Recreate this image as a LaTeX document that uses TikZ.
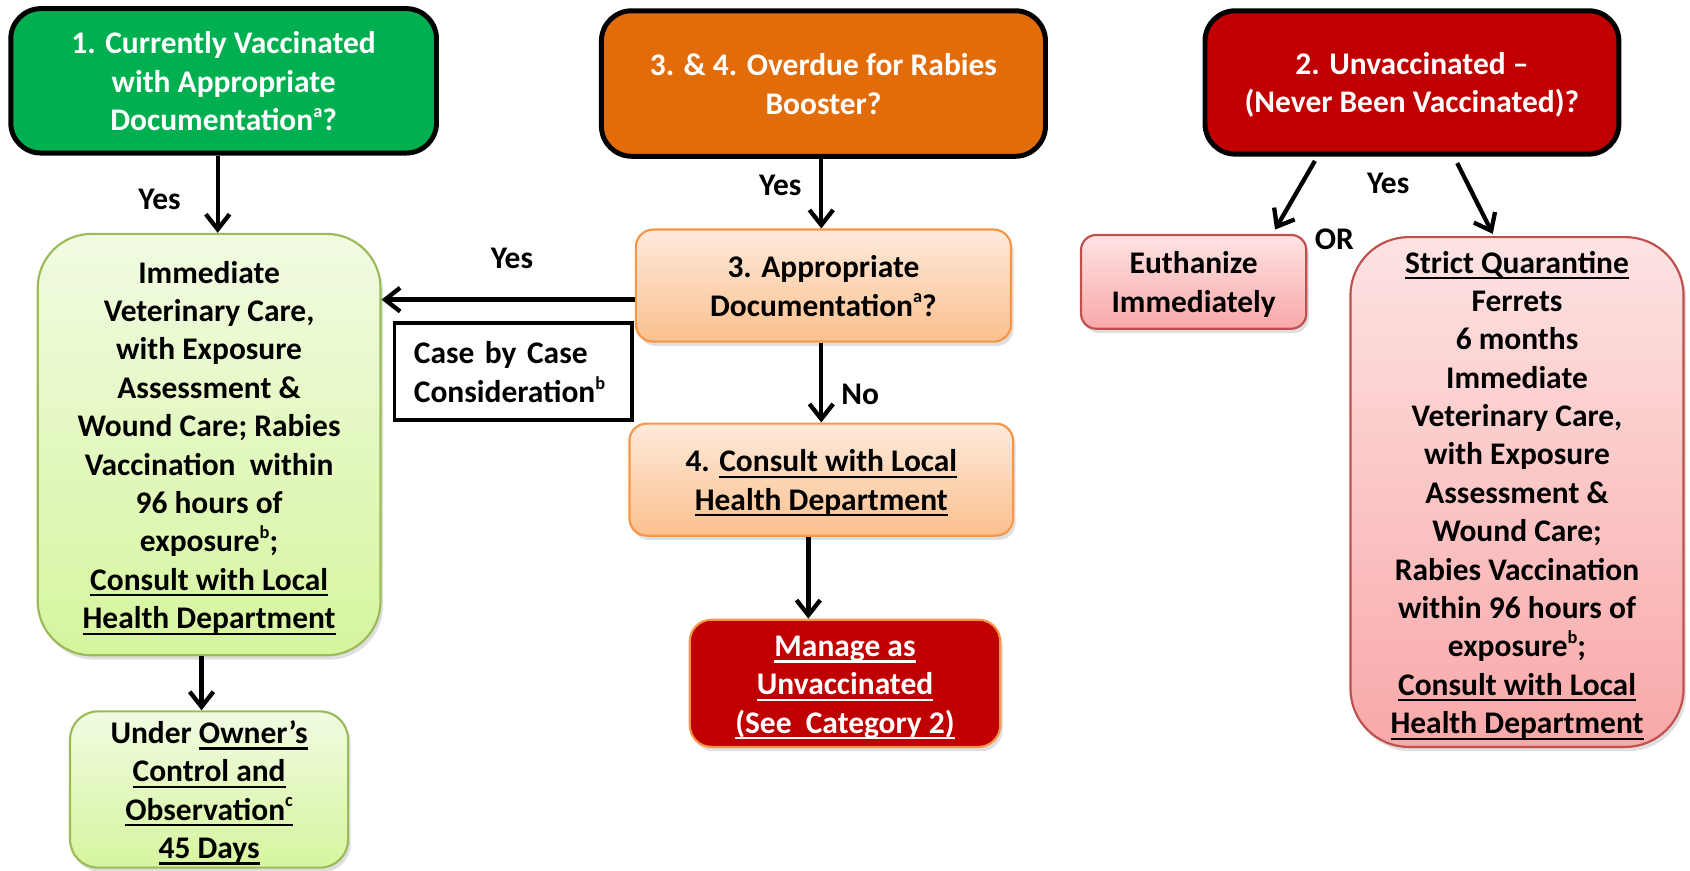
\documentclass[tikz,border=0pt]{standalone}
\usepackage{fontspec}
\setmainfont{Carlito}
\newcommand{\uln}[1]{\setbox0\hbox{#1}\leavevmode\rlap{\smash{\rule[-2.9pt]{\wd0}{1.05pt}}}\box0}
\newcommand{\supr}[1]{\raisebox{0.42em}{\fontsize{8.5pt}{8.5pt}\selectfont #1}}
\newcommand{\stt}{\rule{0pt}{14.2pt}}
\newcommand{\stb}{\rule[-3.7pt]{0pt}{3.7pt}}
\usetikzlibrary{arrows.meta,shadows}
\definecolor{cgreen}{HTML}{00B050}
\definecolor{corange}{HTML}{E36C0A}
\definecolor{cred}{HTML}{C00000}
\definecolor{lgtop}{HTML}{F1FBE2}
\definecolor{lgbot}{HTML}{D6F59E}
\definecolor{lgborder}{HTML}{9BBB59}
\definecolor{lotop}{HTML}{FEEADB}
\definecolor{lobot}{HTML}{FBC08E}
\definecolor{loborder}{HTML}{F79646}
\definecolor{pktop}{HTML}{FDE3E3}
\definecolor{pkbot}{HTML}{F9A8A8}
\definecolor{pkborder}{HTML}{C0504D}
\begin{document}
\begin{tikzpicture}[x=0.5pt,y=-0.5pt,
  base/.style={font=\fontsize{14.6pt}{17.8pt}\selectfont\bfseries, align=center, inner sep=0pt},
  topbox/.style={base, draw=black, line width=2.3pt, rounded corners=14pt, text=white},
  shad/.style={drop shadow={shadow xshift=1.2pt, shadow yshift=-2pt, opacity=0.25}},
  greenbox/.style={base, shad, draw=lgborder, line width=1pt, top color=lgtop, bottom color=lgbot},
  orangebox/.style={base, shad, draw=loborder, line width=1pt, top color=lotop, bottom color=lobot, rounded corners=8pt},
  pinkbox/.style={base, shad, draw=pkborder, line width=1pt, top color=pktop, bottom color=pkbot},
  conn/.style={line width=2pt, -{Straight Barb[length=7pt,width=11pt]}},
  lbl/.style={base}
]
\useasboundingbox (0,0) rectangle (1568,808);

% Column 1
\node[topbox, fill=cgreen, minimum width=197.5pt, minimum height=67pt] (b1) at (207.5,75)
  {\stt 1. Currently Vaccinated\\with Appropriate\\Documentation\supr{a}?\stb};
\node[greenbox, rounded corners=25pt, minimum width=159pt, minimum height=195.5pt] (imm) at (194,412.5)
  {\stt Immediate\\Veterinary Care,\\with Exposure\\Assessment \&\\Wound Care; Rabies\\Vaccination\ \ within\\96 hours of\\exposure\supr{b};\\\uln{Consult with Local}\\\uln{Health Department}\stb};
\node[greenbox, rounded corners=13pt, minimum width=129pt, minimum height=72.5pt] (own) at (194,732.5)
  {\stt Under \uln{Owner’s}\\\uln{Control and}\\\uln{Observation\supr{c}}\\\uln{45 Days}\stb};

% Column 2
\node[topbox, fill=corange, minimum width=206pt, minimum height=67.5pt] (b34) at (764,77.5)
  {\stt 3. \& 4. Overdue for Rabies\\Booster?\stb};
\node[orangebox, minimum width=174pt, minimum height=52pt] (app) at (764,265)
  {\stt 3. Appropriate\\Documentation\supr{a}?\stb};
\node[base, draw=black, line width=1.8pt, align=left, text width=92pt, inner xsep=9pt, minimum height=45pt] (case) at (476,345)
  {\stt Case by Case\\Consideration\supr{b}\stb};
\node[orangebox, minimum width=178pt, minimum height=52pt] (c4) at (762,445)
  {\stt 4. \uln{Consult with Local}\\\uln{Health Department}\stb};
\node[base, shad, fill=cred, draw=loborder, line width=1pt, rounded corners=10pt, text=white, minimum width=144pt, minimum height=59pt] (man) at (784,634)
  {\stt\uln{Manage as}\\\uln{Unvaccinated}\\\uln{(See\ \ Category 2)}\stb};

% Column 3
\node[topbox, fill=cred, minimum width=192pt, minimum height=66.5pt] (b2) at (1310,76.5)
  {\stt 2. Unvaccinated –\\(Never Been Vaccinated)?\stb};
\node[pinkbox, rounded corners=7pt, minimum width=104.5pt, minimum height=43.5pt] (eu) at (1107.5,261.5)
  {\stt Euthanize\\Immediately\stb};
\node[pinkbox, rounded corners=27pt, minimum width=154.5pt, minimum height=236.5pt] (sq) at (1407.5,456.5)
  {\stt\uln{Strict Quarantine}\\Ferrets\\6 months\\Immediate\\Veterinary Care,\\with Exposure\\Assessment \&\\Wound Care;\\Rabies Vaccination\\within 96 hours of\\exposure\supr{b};\\\uln{Consult with Local}\\\uln{Health Department}\stb};

% Connectors
\draw[conn] ([xshift=-2.75pt]b1.south) -- ([xshift=4pt]imm.north);
\draw[conn] ([xshift=-3.5pt]imm.south) -- ([xshift=-3.5pt]own.north);
\draw[conn] ([xshift=-1pt]b34.south) -- ([xshift=-1pt]app.north);
\draw[conn] ([yshift=-6.5pt]app.west) -- ([yshift=-6.5pt]app.west -| imm.east);
\draw[conn] ([xshift=-1pt]app.south) -- (c4.north);
\draw[conn] ([xshift=-6pt]c4.south) -- ([xshift=-17pt]man.north);
\draw[conn] ([xshift=-45pt,yshift=-2pt]b2.south) -- ([xshift=37.75pt,yshift=2pt]eu.north);
\draw[conn] ([xshift=21pt,yshift=-3pt]b2.south) -- ([xshift=-11.25pt,yshift=1pt]sq.north);

% Labels
\node[lbl] (y1) at (148,185) {Yes};
\node[lbl] (y2) at (724,172) {Yes};
\node[lbl] (y3) at (475,240) {Yes};
\node[lbl] (n1) at (798,366) {No};
\node[lbl] (y4) at (1288,170) {Yes};
\node[lbl] (or) at (1238,222) {OR};
\end{tikzpicture}
\end{document}
